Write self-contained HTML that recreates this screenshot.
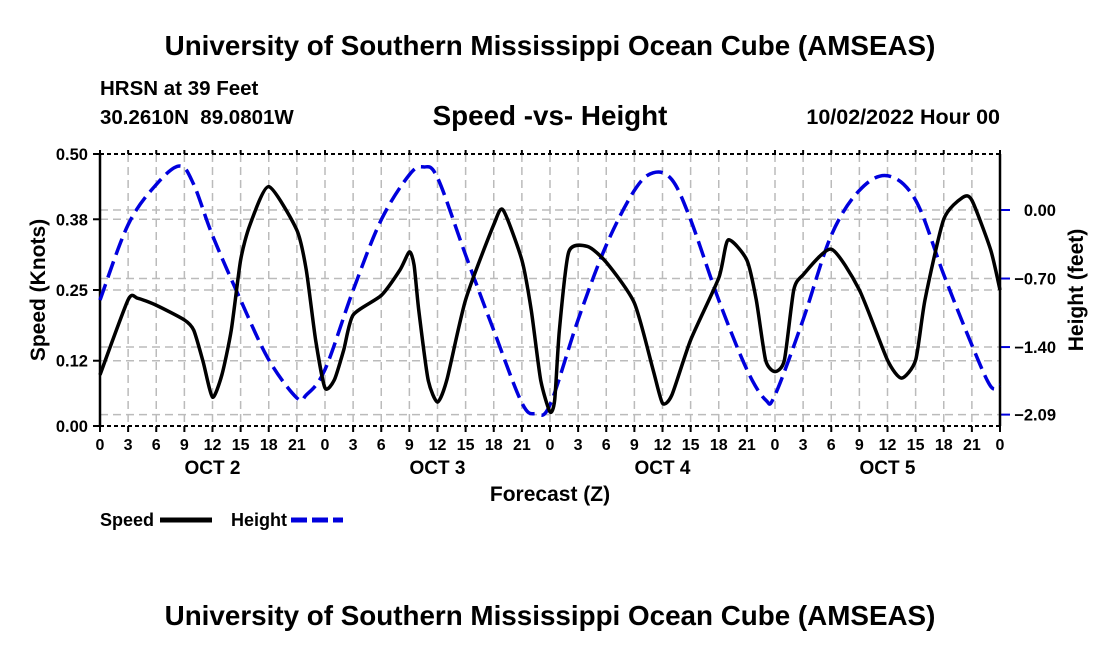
<!DOCTYPE html>
<html><head><meta charset="utf-8"><style>
body{margin:0;background:#fff;}
svg text{font-family:"Liberation Sans",Arial,sans-serif;font-weight:bold;fill:#000;}
</style></head><body>
<svg width="1100" height="650" xmlns="http://www.w3.org/2000/svg">
<text x="550" y="55" font-size="27.8" text-anchor="middle">University of Southern Mississippi Ocean Cube (AMSEAS)</text>
<text x="100" y="95" font-size="20.5">HRSN at 39 Feet</text>
<text x="100" y="124" font-size="20.5" xml:space="preserve">30.2610N  89.0801W</text>
<text x="550" y="125" font-size="27.8" text-anchor="middle">Speed -vs- Height</text>
<text x="1000" y="124" font-size="21.5" text-anchor="end">10/02/2022 Hour 00</text>
<g id="grid"></g>
<g id="axes"></g>
<g id="series"></g>
<text transform="translate(45,290) rotate(-90)" font-size="21" text-anchor="middle">Speed (Knots)</text>
<text transform="translate(1083,290) rotate(-90)" font-size="21" text-anchor="middle">Height (feet)</text>
<text x="550" y="501" font-size="21" text-anchor="middle">Forecast (Z)</text>
<g>
<text x="100" y="526" font-size="18">Speed</text>
<line x1="160" y1="520" x2="212" y2="520" stroke="#000" stroke-width="5"/>
<text x="231" y="526" font-size="18">Height</text>
<line x1="291" y1="520" x2="343" y2="520" stroke="#0000dd" stroke-width="5" stroke-dasharray="16,5"/>
</g>
<text x="550" y="625" font-size="27.8" text-anchor="middle">University of Southern Mississippi Ocean Cube (AMSEAS)</text>
</svg>
<script>
const speedHours=[0,3,4,6,9,10,11,12,13,14,15,16,18,21,22,23,24,25,26,27,30,32,33,33.5,34,35,36,37,39,42,43,45,46,47,48,48.5,49,50,52,54,57,59,60,61,63,66,67,69,70,71,72,73,74,75,78,81,84,85.5,87,88,90,92,93,95,96];
const speedValues=[0.094,0.232,0.235,0.222,0.195,0.176,0.118,0.053,0.094,0.176,0.305,0.37,0.44,0.36,0.287,0.158,0.07,0.085,0.14,0.204,0.24,0.287,0.32,0.296,0.213,0.085,0.044,0.085,0.232,0.37,0.397,0.305,0.213,0.085,0.026,0.048,0.176,0.32,0.33,0.301,0.226,0.103,0.042,0.057,0.158,0.272,0.342,0.305,0.232,0.121,0.1,0.121,0.25,0.278,0.325,0.25,0.121,0.088,0.121,0.232,0.38,0.42,0.415,0.324,0.25];
const heightHours=[0,3,6,8.5,10,12,15,18,21,22,24,27,30,33,34.5,36,39,42,45,46.5,48,51,54,57,59,61,63,66,69,71,72,75,78,81,84,87,90,93,95,96];
const heightValues=[-0.92,-0.15,0.26,0.45,0.26,-0.26,-0.92,-1.53,-1.92,-1.89,-1.63,-0.82,-0.10,0.36,0.44,0.33,-0.46,-1.23,-1.97,-2.08,-1.99,-1.12,-0.36,0.20,0.38,0.31,-0.10,-0.92,-1.63,-1.94,-1.89,-1.12,-0.26,0.20,0.35,0.10,-0.66,-1.38,-1.80,-1.79];
const speedTicks=["0.00","0.12","0.25","0.38","0.50"];
const heightTicks=["0.00","-0.70","-1.40","-2.09"];
const dayLabels=["OCT 2","OCT 3","OCT 4","OCT 5"];
const NS="http://www.w3.org/2000/svg";
const L=100,R=1000,T=154,B=426;
const x=h=>L+(R-L)*h/96;
const yS=v=>B-(B-T)*v/0.5;
const yH=f=>210-f*97.9;
function mk(tag,attrs,parent){const e=document.createElementNS(NS,tag);for(const k in attrs)e.setAttribute(k,attrs[k]);parent.appendChild(e);return e;}
const grid=document.getElementById('grid'),axes=document.getElementById('axes'),series=document.getElementById('series');
for(let h=3;h<96;h+=3){const l=mk('line',{x1:x(h),x2:x(h),y1:T,y2:B,stroke:'#bbb','stroke-width':1.5,'stroke-dasharray':'8,5'},grid);

}
speedTicks.forEach(t=>{const v=parseFloat(t);const y=yS(v);
if(v>0&&v<0.5){const l=mk('line',{x1:L,x2:R,y1:y,y2:y,stroke:'#bbb','stroke-width':1.5,'stroke-dasharray':'8,5'},grid);

}
const tk=mk('line',{x1:L-7,x2:L,y1:y,y2:y,stroke:'#000','stroke-width':2},axes);


const tx=mk('text',{x:L-12,y:y+6,'font-size':16.5,'text-anchor':'end'},axes);tx.textContent=t;

});
heightTicks.forEach(t=>{const y=yH(parseFloat(t));
const l=mk('line',{x1:L,x2:R,y1:y,y2:y,stroke:'#bbb','stroke-width':1.5,'stroke-dasharray':'8,5'},grid);


const tk=mk('line',{x1:R,x2:R+10,y1:y,y2:y,stroke:'#0000dd','stroke-width':2},axes);


const tx=mk('text',{x:R+56,y:y+6,'font-size':16.5,'text-anchor':'end'},axes);tx.textContent=t.replace('-','\u2212');

});
for(let h=0;h<=96;h+=3){const xx=x(h);
const tk=mk('line',{x1:xx,x2:xx,y1:B,y2:B+6,stroke:'#000','stroke-width':2},axes);


const tk2=mk('line',{x1:xx,x2:xx,y1:T-4,y2:T,stroke:'#000','stroke-width':2},axes);


const tx=mk('text',{x:xx,y:B+24,'font-size':16,'text-anchor':'middle'},axes);tx.textContent=String(h%24);

}
dayLabels.forEach((d,i)=>{const tx=mk('text',{x:x(i*24+12),y:B+48,'font-size':19,'text-anchor':'middle'},axes);tx.textContent=d;

});
[[L,T,L,B,'none',2.5],[R,T,R,B,'none',2.5],[L,T,R,T,'4,3',2],[L,B,R,B,'4,3',2]].forEach(a=>{
const l=mk('line',{x1:a[0],y1:a[1],x2:a[2],y2:a[3],stroke:'#000','stroke-width':a[5],'stroke-dasharray':a[4]},axes);

});
function smooth(pts,k){let d='M'+pts[0][0]+','+pts[0][1];
for(let i=0;i<pts.length-1;i++){const p0=pts[Math.max(0,i-1)],p1=pts[i],p2=pts[i+1],p3=pts[Math.min(pts.length-1,i+2)];
const c1=[p1[0]+(p2[0]-p0[0])/k,p1[1]+(p2[1]-p0[1])/k],c2=[p2[0]-(p3[0]-p1[0])/k,p2[1]-(p3[1]-p1[1])/k];
d+=' C'+c1+' '+c2+' '+p2;}return d;}
const hp=mk('path',{d:smooth(heightHours.map((h,i)=>[x(h),yH(heightValues[i])]),6),fill:'none',stroke:'#0000dd','stroke-width':3.5,'stroke-dasharray':'17,7'},series);


const sp=mk('path',{d:smooth(speedHours.map((h,i)=>[x(h),yS(speedValues[i])]),9),fill:'none',stroke:'#000','stroke-width':3.5,'stroke-linejoin':'round'},series);


</script>
</body></html>
